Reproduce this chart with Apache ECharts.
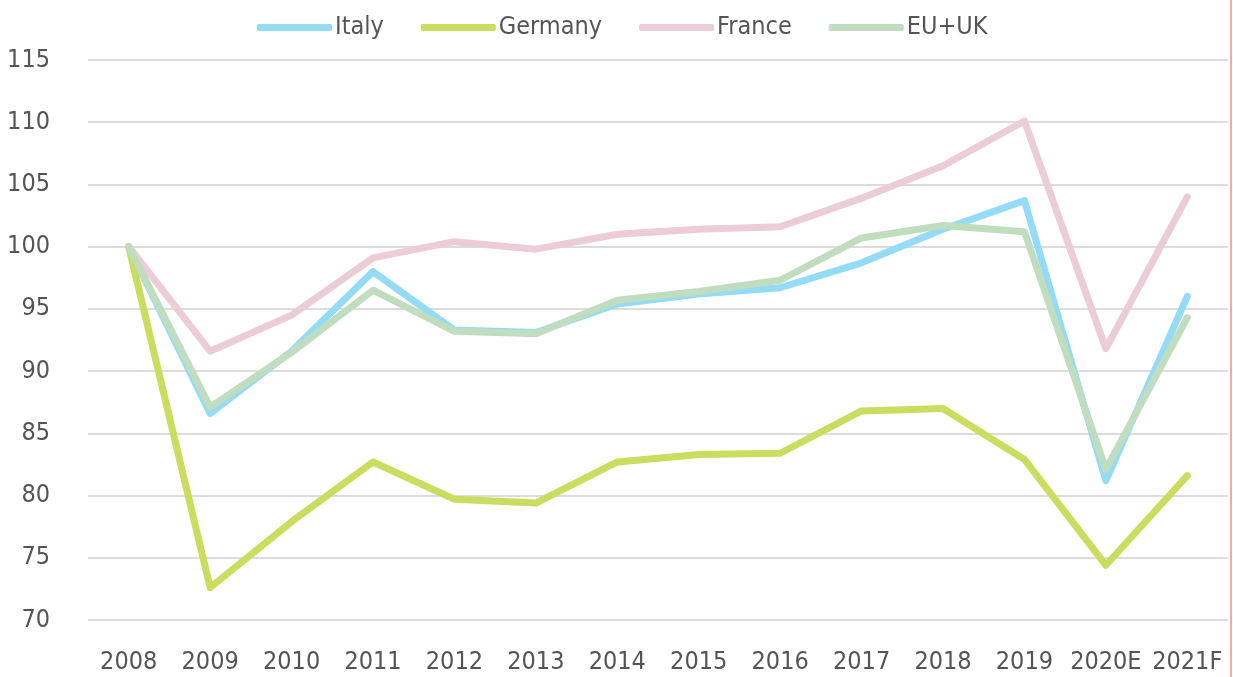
<!DOCTYPE html>
<html lang="en">
<head>
    <meta charset="UTF-8">
    <title>Index</title>
    <style>
        html, body { margin: 0; padding: 0; background: #fff; }
        #main { width: 1233px; height: 677px; }
    </style>
</head>
<body>
    <div id="main"></div>
    <script src="https://cdn.jsdelivr.net/npm/echarts@6/dist/echarts.min.js"></script>
    <script>
        var years = ['2008', '2009', '2010', '2011', '2012', '2013', '2014', '2015', '2016', '2017', '2018', '2019', '2020E', '2021F'];
        var italy   = [100, 86.6, 91.6, 98.0, 93.3, 93.1, 95.4, 96.2, 96.7, 98.7, 101.4, 103.7, 81.2, 96.0];
        var germany = [100, 72.6, 77.9, 82.7, 79.7, 79.4, 82.7, 83.3, 83.4, 86.8, 87.0, 82.9, 74.4, 81.6];
        var france  = [100, 91.6, 94.5, 99.1, 100.4, 99.8, 101.0, 101.4, 101.6, 103.9, 106.5, 110.1, 91.8, 104.0];
        var euuk    = [100, 87.1, 91.5, 96.5, 93.2, 93.0, 95.7, 96.4, 97.3, 100.7, 101.7, 101.2, 82.1, 94.3];

        var font = '"DejaVu Sans Condensed", "Liberation Sans Narrow", sans-serif';
        var chart = echarts.init(document.getElementById('main'));

        function line(name, data, color) {
            return {
                name: name,
                type: 'line',
                data: data,
                symbol: 'none',
                lineStyle: { color: color, width: 7, cap: 'round', join: 'round' },
                itemStyle: { color: color }
            };
        }

        chart.setOption({
            animation: false,
            backgroundColor: '#fff',
            textStyle: { fontFamily: font },
            legend: {
                left: 257,
                top: 15,
                padding: 0,
                itemWidth: 75,
                itemHeight: 7,
                itemGap: 37,
                icon: 'roundRect',
                textStyle: { fontFamily: font, fontSize: 25, color: '#555555', padding: [0, 0, 0, -2] },
                data: ['Italy', 'Germany', 'France', 'EU+UK']
            },
            grid: { left: 88, right: 5, top: 60, bottom: 57 },
            xAxis: {
                type: 'category',
                data: years,
                boundaryGap: true,
                axisLine: { show: false },
                axisTick: { show: false },
                axisLabel: { fontFamily: font, fontSize: 25, color: '#555555', margin: 30, interval: 0 }
            },
            yAxis: {
                type: 'value',
                min: 70,
                max: 115,
                interval: 5,
                axisLine: { show: false },
                axisTick: { show: false },
                splitLine: { lineStyle: { color: '#dcdcdc', width: 2 } },
                axisLabel: { fontFamily: font, fontSize: 25, color: '#555555', margin: 38 }
            },
            graphic: [{
                type: 'rect',
                right: 1,
                top: 0,
                shape: { width: 2, height: 677 },
                style: { fill: '#f2a7ae' }
            }],
            series: [
                line('Italy', italy, '#94dbf6'),
                line('Germany', germany, '#cadd5e'),
                line('France', france, '#ecccd6'),
                line('EU+UK', euuk, '#c1ddbf')
            ]
        });
    </script>
</body>
</html>
